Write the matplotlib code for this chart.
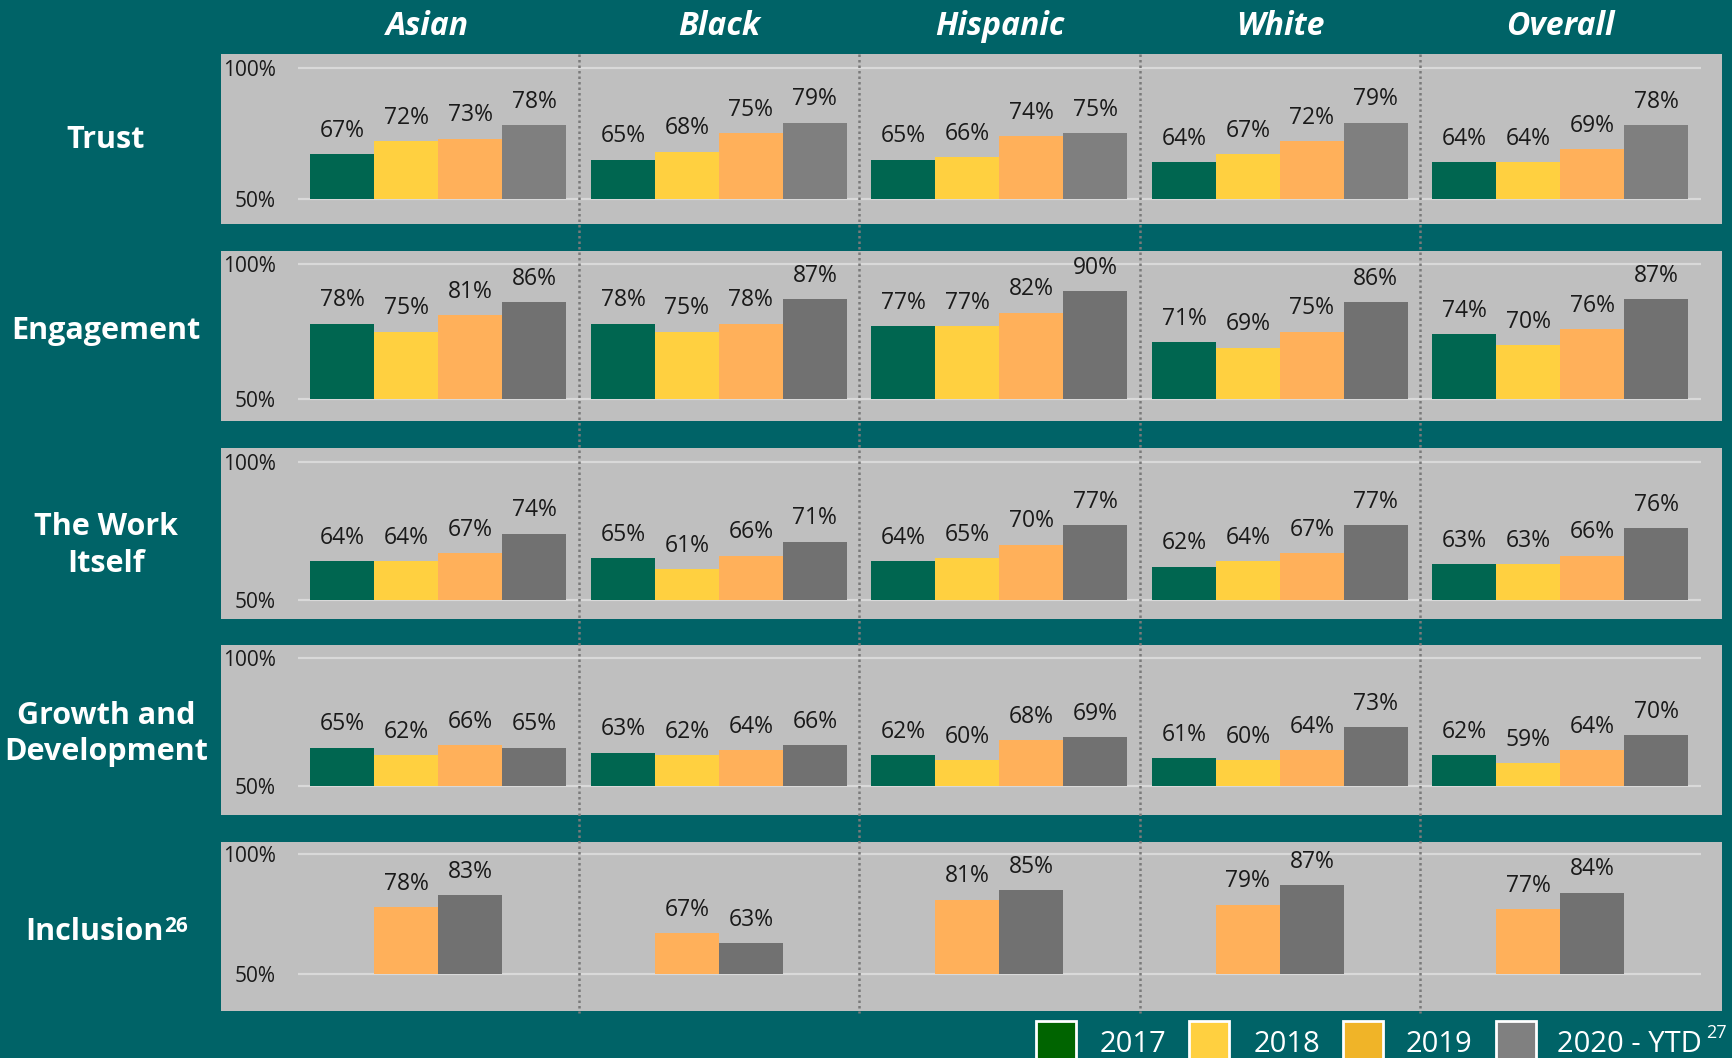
import matplotlib.pyplot as plt
import matplotlib.transforms as mtransforms
from matplotlib.patches import Rectangle

# Survey results by group (%), one list per year: Asian, Black, Hispanic, White, Overall
groups = ["Asian", "Black", "Hispanic", "White", "Overall"]
metrics = ["Trust", "Engagement", "The Work\nItself", "Growth and\nDevelopment", "Inclusion"]
years = ["2017", "2018", "2019", "2020 - YTD"]

trust = [[67, 65, 65, 64, 64], [72, 68, 66, 67, 64], [73, 75, 74, 72, 69], [78, 79, 75, 79, 78]]
engagement = [[78, 78, 77, 71, 74], [75, 75, 77, 69, 70], [81, 78, 82, 75, 76], [86, 87, 90, 86, 87]]
work_itself = [[64, 65, 64, 62, 63], [64, 61, 65, 64, 63], [67, 66, 70, 67, 66], [74, 71, 77, 77, 76]]
growth = [[65, 63, 62, 61, 62], [62, 62, 60, 60, 59], [66, 64, 68, 64, 64], [65, 66, 69, 73, 70]]
inclusion = [None, None, [78, 67, 81, 79, 77], [83, 63, 85, 87, 84]]
rows = [trust, engagement, work_itself, growth, inclusion]

# styling
BG = "#006367"
PANEL = "#bfbfbf"
bar_colors = ["#006650", "#ffd040", "#ffb05a", "#717171"]
legend_colors = ["#006400", "#ffd040", "#f0b428", "#808080"]
W, H = 1733, 1058
panel_px = [(54, 224), (250.7, 421), (447.7, 618.7), (645, 815), (842, 1011)]
ylims = [(40.5, 105.2), (41.8, 105.05), (43.2, 105.06), (38.7, 105.1), (34.7, 105.1)]
label_y = [140.5, 330.5, 545.5, 734, 932.5]
bw = 0.228

plt.rcParams['font.family'] = ['Open Sans', 'DejaVu Sans']
fig = plt.figure(figsize=(W / 100, H / 100), dpi=100, facecolor=BG)

axes = []
for r, data in enumerate(rows):
    top, bot = panel_px[r]
    ax = fig.add_axes([221 / W, 1 - bot / H, (1721.7 - 221) / W, (bot - top) / H])
    ax.set_facecolor(PANEL)
    for s in ax.spines.values():
        s.set_visible(False)
    ax.set_xticks([])
    ax.set_yticks([])
    ax.set_xlim(-0.775, 4.575)
    ax.set_ylim(*ylims[r])
    ax.hlines([50, 100], -0.5, 4.5, color="#d9d9d9", lw=1.6, zorder=1)
    for v, lab in [(100, "100%"), (50, "50%")]:
        ax.text(-0.58, v, lab, ha="right", va="center_baseline", fontsize=15, color="#1a1a1a")

    present = [k for k in range(4) if data[k] is not None]
    n = len(present)
    for j, k in enumerate(present):
        off = (j - (n - 1) / 2) * bw
        color = "#7f7f7f" if (k == 3 and r == 0) else bar_colors[k]
        for g, v in enumerate(data[k]):
            ax.bar(g + off, v - 50, bottom=50, width=bw, color=color, zorder=2)
            ax.annotate(f"{v}%", (g + off, v), xytext=(0, 12.5), textcoords="offset points",
                        ha="center", va="baseline", fontsize=16.5, color="#1a1a1a")
    axes.append(ax)

# overlay in pixel coordinates for labels, separators and legend
ov = fig.add_axes([0, 0, 1, 1], zorder=10)
ov.axis("off")
ov.set_xlim(0, W)
ov.set_ylim(H, 0)

blend = mtransforms.blended_transform_factory(axes[0].transData, ov.transData)
for b in [0.5, 1.5, 2.5, 3.5]:
    ov.plot([b, b], [54, 1013], transform=blend, color="#7a7a7a", lw=1.8,
            linestyle=(0, (1, 1.2)), zorder=5)

header_x = [-0.04, 1, 2, 3, 4]
for x, g in zip(header_x, groups):
    ov.text(x, 35, g, transform=blend, ha="center", va="baseline", fontsize=23,
            fontweight="bold", fontstyle="italic", color="white")

for r, m in enumerate(metrics):
    x = 94 if m == "Inclusion" else 106
    t = ov.text(x, label_y[r], m, ha="center", va="center", fontsize=22,
                fontweight="bold", color="white", linespacing=1.3)
    if m == "Inclusion":
        ov.annotate("26", xy=(1, 0), xycoords=t, xytext=(1, 11), textcoords="offset points",
                    ha="left", va="baseline", fontsize=15, fontweight="bold", color="white")

# legend
box_x = [1036, 1189, 1343, 1496]
text_x = [1100, 1254, 1406, 1557]
for k in range(4):
    ov.add_patch(Rectangle((box_x[k], 1021), 40, 50, facecolor=legend_colors[k],
                           edgecolor="white", lw=2, zorder=6))
    t = ov.text(text_x[k], 1052, years[k], ha="left", va="baseline", fontsize=21, color="white")
ov.annotate("27", xy=(1, 0), xycoords=t, xytext=(3, 15), textcoords="offset points",
            ha="left", va="baseline", fontsize=13, color="white")

fig.savefig("out.png", dpi=100, facecolor=BG)
